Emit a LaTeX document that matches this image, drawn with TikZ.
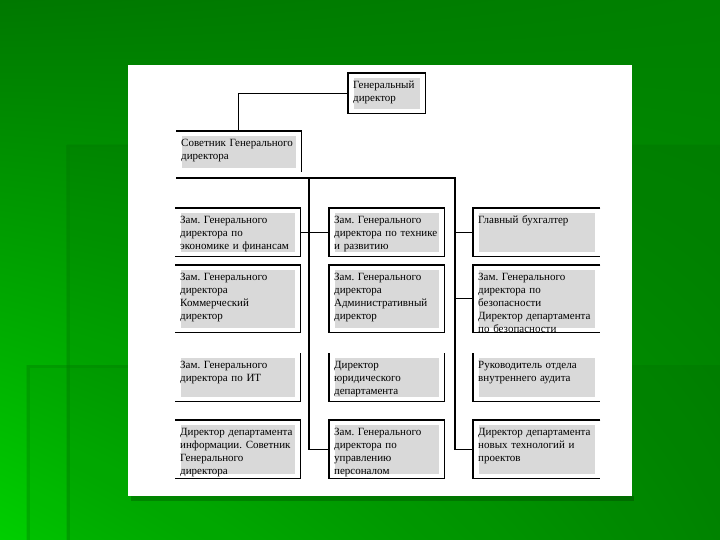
\documentclass[tikz,border=0pt]{standalone}
\usepackage{fontspec}
\setmainfont{Liberation Serif}
\usetikzlibrary{shadings}
\definecolor{bgtop}{RGB}{0,120,0}
\definecolor{bgtopright}{RGB}{0,128,0}
\definecolor{bgleft}{RGB}{0,206,0}
\definecolor{bgright}{RGB}{0,148,0}
\definecolor{cellgrey}{RGB}{217,217,217}
\tikzset{
  cell/.style 2 args={anchor=north west, fill=white, inner xsep=5pt, inner ysep=0pt,
    text width=#1, text height=15pt, text depth=#2, align=left,
    font=\fontsize{11}{13}\selectfont\frenchspacing,
    path picture={\fill[cellgrey] ([shift={(6pt,-5pt)}]path picture bounding box.north west)
      rectangle ([shift={(-5pt,4pt)}]path picture bounding box.south east);}},
  rim/.style={line width=1.2pt},
  wire/.style={line width=1.2pt},
}

\begin{document}
\begin{tikzpicture}[x=1pt, y=-1pt]
  \useasboundingbox (0,0) rectangle (720,540);
  % green backdrop
  \shade[upper left=bgtop, upper right=bgtopright, lower left=bgleft, lower right=bgright] (0,0) rectangle (720,540);
  \fill[black, opacity=0.06] (66,145) rectangle (720,540);
  \draw[black!50!green, opacity=0.35, line width=3pt] (68,540) -- (68,146) -- (720,146);
  \fill[black, opacity=0.05] (26,365) rectangle (720,540);
  \draw[black!50!green, opacity=0.3, line width=3pt] (28,540) -- (28,366) -- (720,366);
  % sheet
  \fill[black, opacity=0.2] (131,496) rectangle (634,501);
  \fill[white] (128,65) rectangle (632,496);

  % boxes
  \node[cell={67pt}{25pt}] (gendir) at (348,73) {Генеральный\\директор};
  \node[cell={115pt}{26pt}] (advisor) at (176,131) {Советник Генерального\\директора};

  \node[cell={115pt}{33pt}] (econ) at (175,208) {Зам. Генерального\\директора по\\экономике и финансам};
  \node[cell={105pt}{33pt}] (tech) at (329,208) {Зам. Генерального\\директора по технике\\и развитию};
  \node[cell={117pt}{33pt}] (acct) at (473,208) {Главный бухгалтер};

  \node[cell={115pt}{52pt}] (comm) at (175,265) {Зам. Генерального\\директора\\Коммерческий\\директор};
  \node[cell={105pt}{52pt}] (admin) at (329,265) {Зам. Генерального\\директора\\Административный\\директор};
  \node[cell={117pt}{52pt}] (secur) at (473,265) {Зам. Генерального\\директора по\\безопасности\\Директор департамента\\по безопасности};

  \node[cell={115pt}{33pt}] (itdep) at (175,353) {Зам. Генерального\\директора по ИТ};
  \node[cell={105pt}{33pt}] (legal) at (329,353) {Директор\\юридического\\департамента};
  \node[cell={117pt}{33pt}] (audit) at (473,353) {Руководитель отдела\\внутреннего аудита};

  \node[cell={115pt}{43pt}] (info) at (175,420) {Директор департамента\\информации. Советник\\Генерального\\директора};
  \node[cell={105pt}{43pt}] (hr) at (329,420) {Зам. Генерального\\директора по\\управлению\\персоналом};
  \node[cell={117pt}{43pt}] (newtech) at (473,420) {Директор департамента\\новых технологий и\\проектов};

  % box edges
  \foreach \n in {gendir,tech,admin,hr}
    \draw[rim] (\n.north west) rectangle (\n.south east);
  \foreach \n in {econ,comm,info}
    \draw[rim] (\n.north west) -- (\n.north east) -- (\n.south east) -- (\n.south west);
  \foreach \n in {acct,secur,newtech}
    \draw[rim] (\n.north east) -- (\n.north west) -- (\n.south west) -- (\n.south east);
  \draw[rim] (advisor.north west) -- (advisor.north east) -- (advisor.south east);
  \draw[rim] (itdep.north east) -- (itdep.south east) -- (itdep.south west);
  \draw[rim] (legal.north west) -- (legal.south west) -- (legal.south east) -- (legal.north east);
  \draw[rim] (audit.north west) -- (audit.south west) -- (audit.south east);

  % links
  \coordinate (busL) at (176,178);
  \coordinate (spine) at (309,178);
  \coordinate (busR) at (455,178);
  \draw[wire] (gendir.west) -| (advisor.north);
  \draw[wire] (busL) -- (busR) |- (newtech.west);
  \draw[wire] (spine) |- (hr.west);
  \draw[wire] (econ.east) -- (tech.west);
  \draw[wire] (acct.west) -- (acct.west -| busR);
  \draw[wire] (secur.west) -- (secur.west -| busR);
\end{tikzpicture}
\end{document}
